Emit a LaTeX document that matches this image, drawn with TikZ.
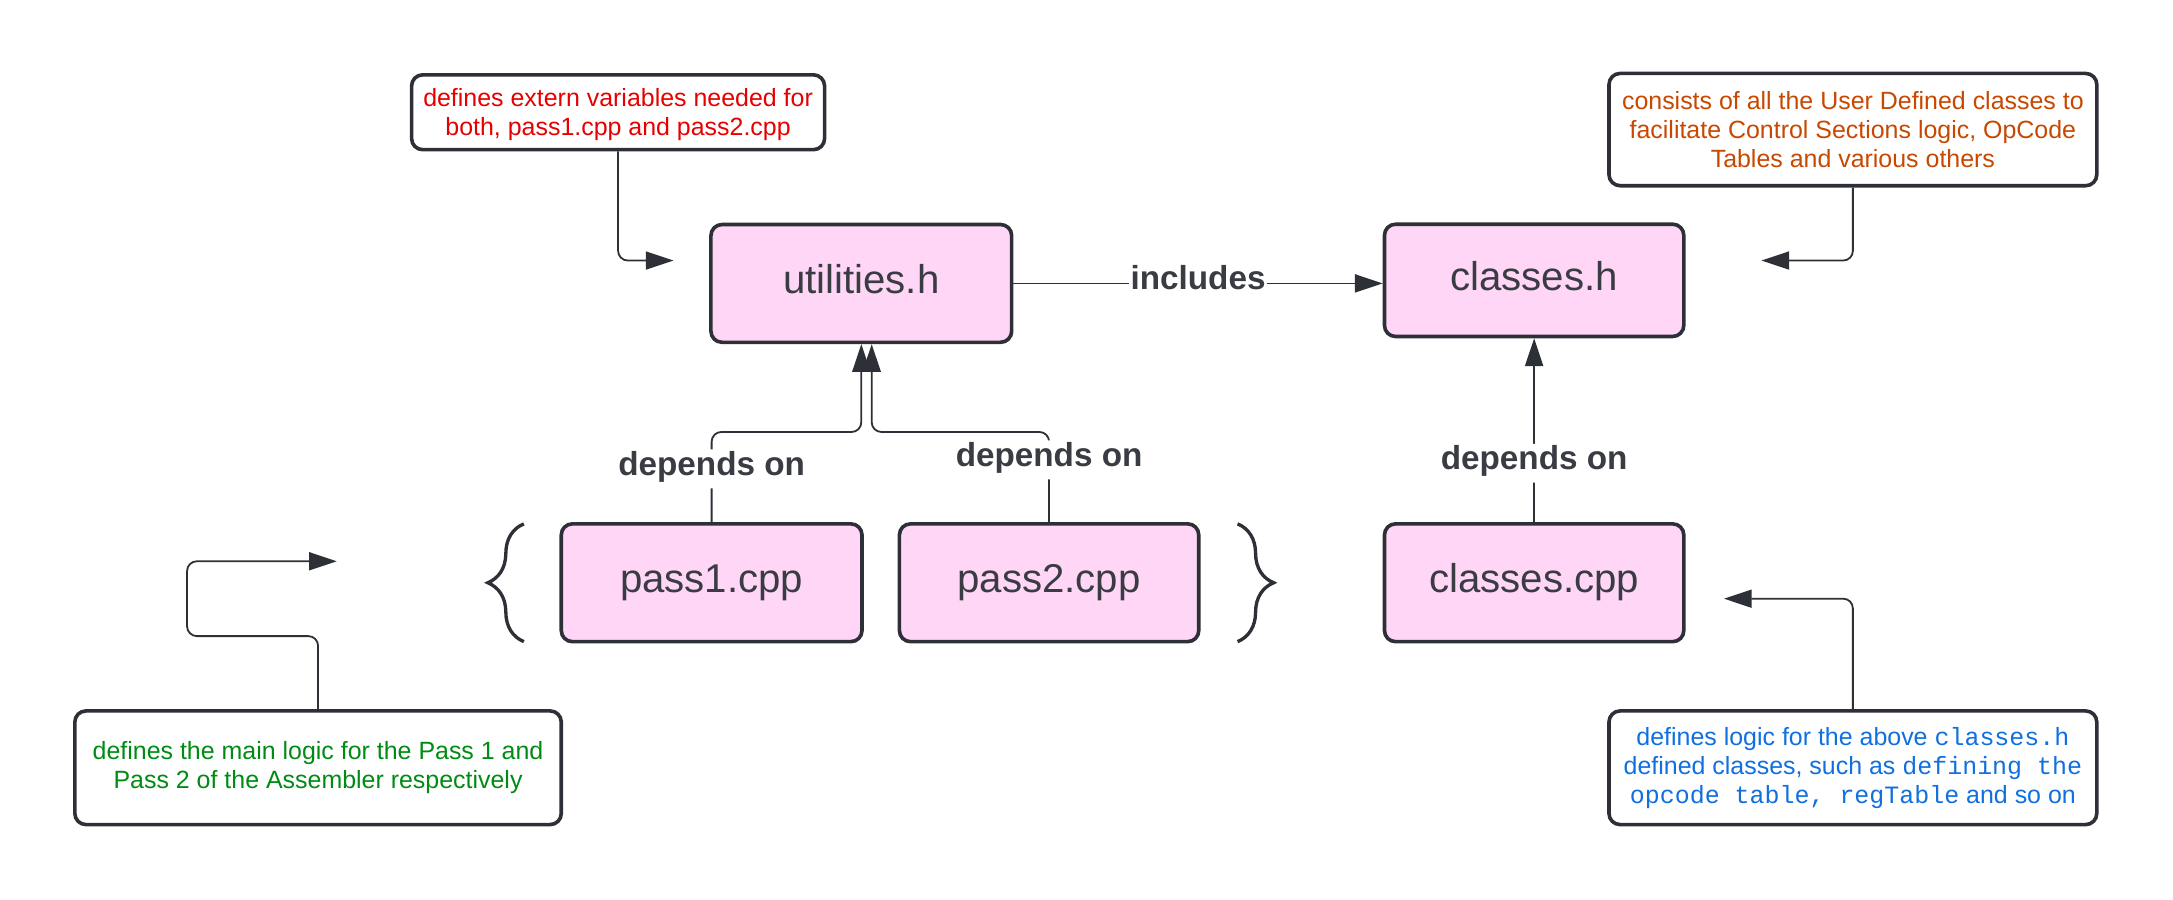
\documentclass[tikz,border=0pt]{standalone}
\usepackage{fontspec}
\setmainfont{Liberation Sans}
\setmonofont{Liberation Mono}
\usetikzlibrary{arrows.meta,decorations.pathreplacing}
\definecolor{edge}{RGB}{46,48,56}
\definecolor{ink}{RGB}{58,60,68}
\definecolor{pinkfill}{RGB}{255,214,246}
\definecolor{redtxt}{RGB}{230,0,0}
\definecolor{orgtxt}{RGB}{200,72,0}
\definecolor{grntxt}{RGB}{0,140,20}
\definecolor{blutxt}{RGB}{16,112,224}
\begin{document}
\begin{tikzpicture}[x=1pt,y=-1pt,
  file/.style={draw=edge, line width=2.6pt, fill=pinkfill, rounded corners=8pt, text=ink, inner sep=0pt, text height=21pt, text depth=6.5pt, font=\fontsize{29}{35}\selectfont},
  note/.style={draw=edge, line width=2.6pt, fill=white, rounded corners=8pt, align=center, inner sep=0pt, font=\fontsize{18}{21}\selectfont},
  link/.style={draw=edge, line width=1.3pt, rounded corners=7pt, -{Triangle[length=20pt,width=13pt]}},
  lbl/.style={fill=white, text=ink, inner xsep=1pt, inner ysep=2.5pt, text height=16pt, text depth=7pt, font=\fontsize{24}{28}\selectfont\bfseries},
  curly/.style={draw=edge, line width=2.4pt, decorate, decoration={brace, amplitude=26pt}}]
\useasboundingbox (0,0) rectangle (1568,649.4);
% source files
\node[file, minimum width=217, minimum height=85] (util) at (621.5,204.5){utilities.h};
\node[file, minimum width=216, minimum height=81] (clsh) at (1107,202.3){classes.h};
\node[file, minimum width=217, minimum height=85] (pass1) at (513.5,420.5){pass1.cpp};
\node[file, minimum width=216, minimum height=85] (pass2) at (757,420.5){pass2.cpp};
\node[file, minimum width=216, minimum height=85] (clscpp) at (1107,420.5){classes.cpp};
% notes
\node[note, text=redtxt, minimum width=298, minimum height=54, text height=38pt, text depth=3.8pt] (note1) at (446,81){defines extern variables needed for\\both, pass1.cpp and pass2.cpp};
\node[note, text=orgtxt, minimum width=352, minimum height=81] (note2) at (1337,93.5){consists of all the User Defined classes to\\facilitate Control Sections logic, OpCode\\Tables and various others};
\node[note, text=grntxt, minimum width=351, minimum height=82] (note3) at (229.5,554){defines the main logic for the Pass 1 and\\Pass 2 of the Assembler respectively};
\node[note, text=blutxt, minimum width=352, minimum height=82] (note4) at (1337,554){defines logic for the above \texttt{classes.h}\\defined classes, such as \texttt{defining the}\\\texttt{opcode table, regTable} and so on};
% free ends of the note arrows
\coordinate (end1) at (486,188);
\coordinate (end2) at (1271,188);
\coordinate (end3) at (243,405);
\coordinate (end4) at (1244,432);
% dependencies
\draw[link](util.east) -- node[lbl]{includes} (util.east -| clsh.west);
\draw[link](pass1.north) -- node[lbl, pos=0.59]{depends on} ++(0,-65) -| (util.south);
\draw[link](pass2.north) -- node[lbl, pos=0.69]{depends on} ++(0,-65) -| ([xshift=7.5pt]util.south);
\draw[link](clscpp.north) -- node[lbl, pos=0.32]{depends on} (clsh.south);
% note arrows
\draw[link](note1.south) |- (end1);
\draw[link](note2.south) |- (end2);
\draw[link](note3.north) |- (135,459) |- (end3);
\draw[link](note4.north) |- (end4);
% braces round the two passes
\draw[curly](378,463) -- (378,378);
\draw[curly](893,378) -- (893,463);
\end{tikzpicture}
\end{document}
